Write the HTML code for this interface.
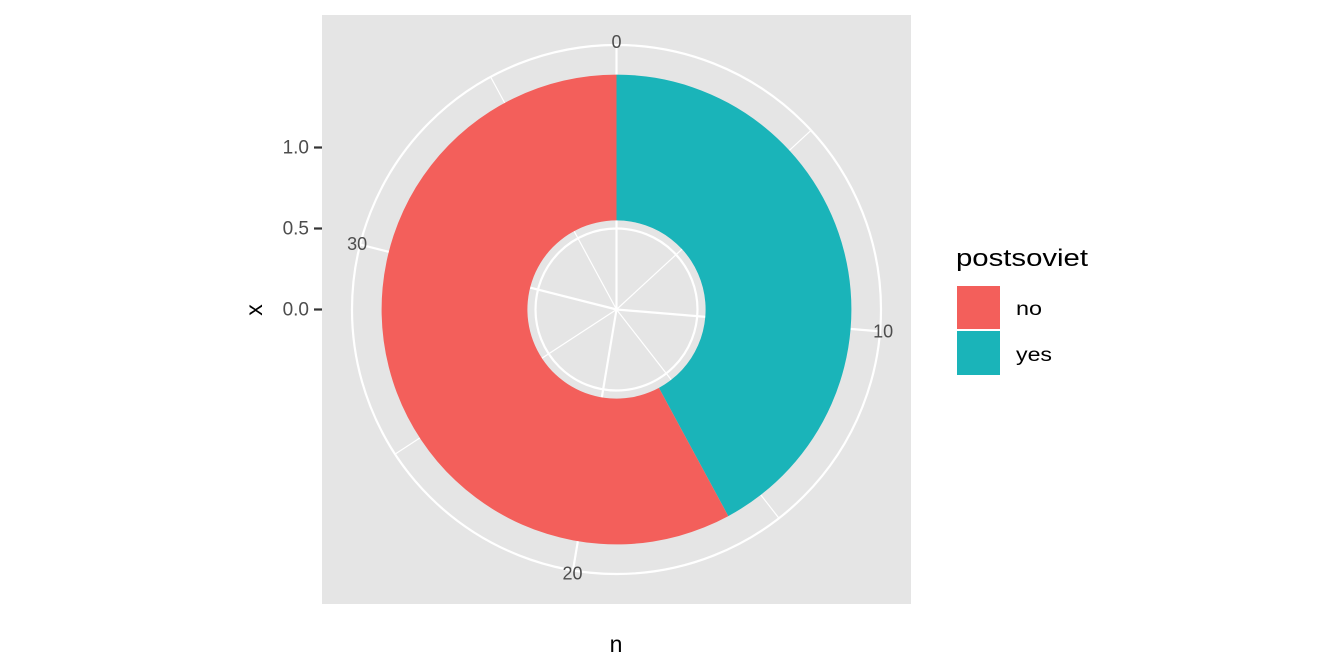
<!DOCTYPE html>
<html><head><meta charset="utf-8"><style>
body{margin:0;background:#fff;}
svg{display:block;font-family:"Liberation Sans",Arial,sans-serif;}
</style></head><body>
<svg id="chart" width="1344" height="672" viewBox="0 0 1344 672">
<rect x="322" y="15" width="589" height="589" fill="#E5E5E5"/>
<g id="grid"></g><g id="bars"></g><g id="labels"></g>
<g id="yaxis"></g>
<text x="262" y="310" transform="rotate(-90 262 310)" text-anchor="middle" font-size="23" fill="#000">x</text>
<text x="616" y="652" text-anchor="middle" font-size="23" fill="#000">n</text>
<g>
<text x="956" y="266" font-size="24" textLength="132" lengthAdjust="spacingAndGlyphs" fill="#000">postsoviet</text>
<rect x="957" y="286" width="43" height="43" fill="#F35F5B"/>
<text x="1016" y="315" font-size="19" textLength="26" lengthAdjust="spacingAndGlyphs" fill="#000">no</text>
<rect x="957" y="331" width="43" height="44" fill="#1AB4B9"/>
<text x="1016" y="361" font-size="19" textLength="36" lengthAdjust="spacingAndGlyphs" fill="#000">yes</text>
</g>
</svg>
<script>
const categories = ["yes","no"];
const counts = [16,22];
const colors = ["#1AB4B9","#F35F5B"];
const thetaTicks = [0,10,20,30];
const thetaMinor = [5,15,25,35];
const yTicks = [0.0,0.5,1.0];
const yTickLabels = ["0.0","0.5","1.0"];
const NS="http://www.w3.org/2000/svg";
const cx=616.5, cy=309.5, rUnit=162, rOuter=264.5;
const total = counts.reduce((a,b)=>a+b,0);
const ang = v => v/total*2*Math.PI;
const rad = y => y*rUnit;
function pt(r,a){return [cx+r*Math.sin(a), cy-r*Math.cos(a)];}
function mk(tag,attrs,parent){const e=document.createElementNS(NS,tag);for(const k in attrs)e.setAttribute(k,attrs[k]);parent.appendChild(e);return e;}
const grid=document.getElementById('grid');
[0.5,1.0].forEach(y=>{const c=mk('circle',{cx,cy,r:rad(y),fill:'none',stroke:'#fff','stroke-width':2.2},grid);

});
const oc=mk('circle',{cx,cy,r:rOuter,fill:'none',stroke:'#fff','stroke-width':2.2},grid);


thetaTicks.concat(thetaMinor).forEach(v=>{const p=pt(rOuter,ang(v));const l=mk('line',{x1:cx,y1:cy,x2:p[0],y2:p[1],stroke:'#fff','stroke-width':thetaTicks.includes(v)?2.2:1.2},grid);

});
const bars=document.getElementById('bars');
let acc=0;const r0=rad(0.55), r1=rad(1.45);
counts.forEach((n,i)=>{const a0=ang(acc),a1=ang(acc+n);acc+=n;const lg=(a1-a0)>Math.PI?1:0;
const p0=pt(r1,a0),p1=pt(r1,a1),p2=pt(r0,a1),p3=pt(r0,a0);
const d=`M${p0} A${r1},${r1} 0 ${lg} 1 ${p1} L${p2} A${r0},${r0} 0 ${lg} 0 ${p3} Z`;
const e=mk('path',{d,fill:colors[i]},bars);

});
const lab=document.getElementById('labels');
thetaTicks.forEach(v=>{const p=pt(rOuter+3,ang(v));const t=mk('text',{x:p[0],y:p[1]+6,'text-anchor':'middle','font-size':18,fill:'#4D4D4D'},lab);t.textContent=v;

});
const ya=document.getElementById('yaxis');
yTicks.forEach((y,i)=>{const yy=cy-rad(y);
const l=mk('line',{x1:314,y1:yy,x2:322,y2:yy,stroke:'#333','stroke-width':2.2},ya);


const t=mk('text',{x:309,y:yy+6,'text-anchor':'end','font-size':19,fill:'#4D4D4D'},ya);t.textContent=yTickLabels[i];

});
</script>
</body></html>
